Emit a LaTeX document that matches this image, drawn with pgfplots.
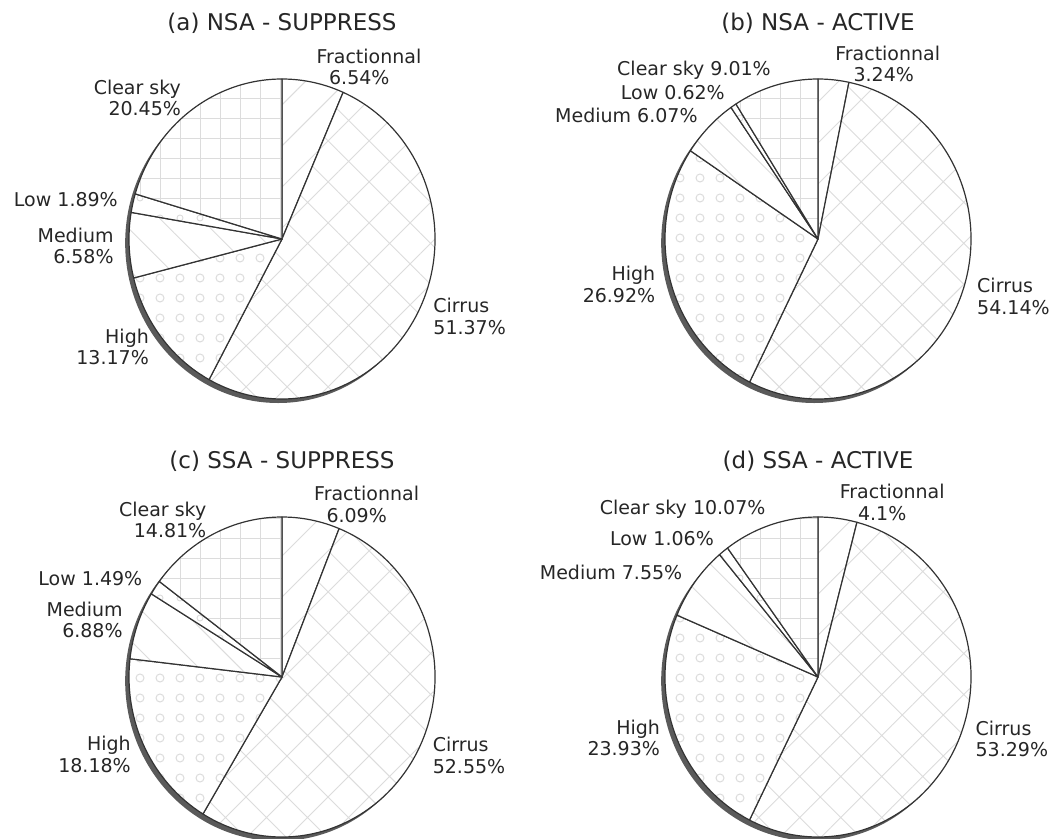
\documentclass[border=0pt]{standalone}
\usepackage{pgfplots}
\pgfplotsset{compat=1.18}
\usepackage{pgfplotstable}
\usepackage{fontspec}
\setmainfont{DejaVu Sans}
\usetikzlibrary{patterns.meta}

\definecolor{edgec}{HTML}{333333}
\definecolor{hatchc}{HTML}{DCDCDC}
\definecolor{shadowc}{HTML}{5A5A5A}

\tikzdeclarepattern{
  name=rings, type=uncolored,
  bounding box={(-10pt,-10pt) and (10pt,10pt)},
  tile size={(20pt,20pt)},
  code={\pgfsetlinewidth{1pt}\pgfpathcircle{\pgfpointorigin}{4pt}\pgfusepath{stroke}}
}
\tikzdeclarepattern{
  name=smallrings, type=uncolored,
  bounding box={(-10pt,-10pt) and (10pt,10pt)},
  tile size={(20pt,20pt)},
  code={\pgfsetlinewidth{0.9pt}\pgfpathcircle{\pgfpointorigin}{3pt}\pgfusepath{stroke}}
}

\tikzset{
  pat0/.style={pattern={Lines[angle=45,distance=29pt,line width=0.9pt]}, pattern color=hatchc},
  pat1/.style={pattern={Hatch[angle=45,distance=29pt,line width=0.9pt]}, pattern color=hatchc},
  pat2/.style={pattern=rings, pattern color=hatchc},
  pat3/.style={pattern={Lines[angle=-45,distance=29pt,line width=0.9pt]}, pattern color=hatchc},
  pat4/.style={pattern=smallrings, pattern color=hatchc},
  pat5/.style={pattern={Hatch[angle=0,distance=20pt,line width=0.9pt]}, pattern color=hatchc},
}

% v = share in %, m = 0 two-line label / 1 one-line label, o = indent of second line (pt)
\pgfplotstableread{
v m o
6.54 0 12.6
51.37 0 0
13.17 0 0
6.58 0 0
1.89 1 0
20.45 0 0
}\tblA
\pgfplotstableread{
v m o
3.24 0 18.3
54.14 0 0
26.92 0 0
6.07 1 0
0.62 1 0
9.01 1 0
}\tblB
\pgfplotstableread{
v m o
6.09 0 12.3
52.55 0 0
18.18 0 0
6.88 0 0
1.49 1 0
14.81 0 0
}\tblC
\pgfplotstableread{
v m o
4.1 0 18.3
53.29 0 0
23.93 0 0
7.55 1 0
1.06 1 0
10.07 1 0
}\tblD

\newcommand\lblfont{\fontsize{19}{21.5}\selectfont}
\newcommand\ttlfont{\fontsize{23}{27}\selectfont}
\newcommand\slicename[1]{\ifcase#1 Fractionnal\or Cirrus\or High\or Medium\or Low\or Clear sky\fi}

\newcommand\drawpie[2]{%
  \fill[shadowc] (axis cs:-0.025,-0.025) ellipse[x radius=153pt, y radius=160pt];
  \gdef\curang{90}%
  \foreach \r in {0,...,5}{%
    \pgfplotstablegetelem{\r}{v}\of#1\let\val\pgfplotsretval
    \pgfplotstablegetelem{\r}{m}\of#1\let\mode\pgfplotsretval
    \pgfplotstablegetelem{\r}{o}\of#1\let\off\pgfplotsretval
    \pgfmathsetmacro\angA{\curang}%
    \pgfmathsetmacro\angB{\curang-3.6*\val}%
    \pgfmathsetmacro\angM{0.5*(\angA+\angB)}%
    \pgfmathsetmacro\xA{cos(\angA)}%
    \pgfmathsetmacro\yA{sin(\angA)}%
    \fill[white] (axis cs:0,0) -- (axis cs:\xA,\yA) arc[start angle=\angA, end angle=\angB, x radius=153pt, y radius=160pt] -- cycle;
    \path[pat\r] (axis cs:0,0) -- (axis cs:\xA,\yA) arc[start angle=\angA, end angle=\angB, x radius=153pt, y radius=160pt] -- cycle;
    \draw[edgec, line width=1.2pt, line join=round] (axis cs:0,0) -- (axis cs:\xA,\yA) arc[start angle=\angA, end angle=\angB, x radius=153pt, y radius=160pt] -- cycle;
    \pgfmathsetmacro\lx{1.1*cos(\angM)}%
    \pgfmathsetmacro\ly{1.1*sin(\angM)}%
    \ifdim\lx pt<0pt \def\anc{east}\def\al{right}\else\def\anc{west}\def\al{left}\fi
    \ifnum\mode=0
      \node[anchor=\anc, align=\al, inner sep=0pt, font=\lblfont, text=black!85] at (axis cs:\lx,\ly) {\slicename{\r}\\\hspace*{\off pt}\val\%};
    \else
      \node[anchor=\anc, inner sep=0pt, font=\lblfont, text=black!85] at (axis cs:\lx,\ly) {\slicename{\r} \val\%};
    \fi
    \xdef\curang{\angB}%
  }%
  \node[anchor=base, font=\ttlfont, text=black!85] at (axis cs:0,1.306) {#2};
}

\pgfplotsset{pie axis/.style={hide axis, anchor=center, x=153pt, y=160pt,
  xmin=-1, xmax=1, ymin=-1, ymax=1, clip=false}}

\begin{document}
\begin{tikzpicture}
\useasboundingbox (0,0) rectangle (1060pt,-838pt);
\begin{axis}[pie axis, at={(282pt,-239pt)}]
\pgfplotsextra{\drawpie{\tblA}{(a) NSA - SUPPRESS}}
\end{axis}
\begin{axis}[pie axis, at={(818pt,-239pt)}]
\pgfplotsextra{\drawpie{\tblB}{(b) NSA - ACTIVE}}
\end{axis}
\begin{axis}[pie axis, at={(282pt,-677pt)}]
\pgfplotsextra{\drawpie{\tblC}{(c) SSA - SUPPRESS}}
\end{axis}
\begin{axis}[pie axis, at={(818pt,-677pt)}]
\pgfplotsextra{\drawpie{\tblD}{(d) SSA - ACTIVE}}
\end{axis}
\end{tikzpicture}
\end{document}
